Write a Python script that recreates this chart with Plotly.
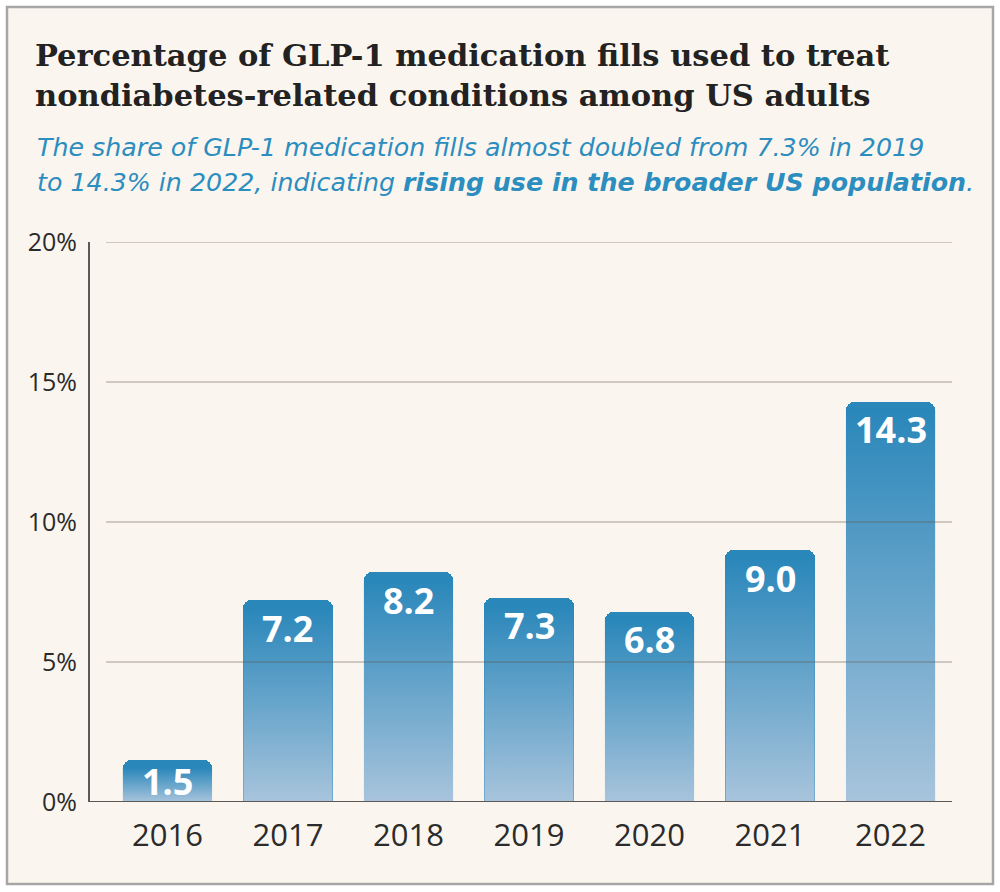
import plotly.graph_objects as go

# ---------------- data ----------------
years = ["2016", "2017", "2018", "2019", "2020", "2021", "2022"]
shares = [1.5, 7.2, 8.2, 7.3, 6.8, 9.0, 14.3]
value_labels = ["1.5", "7.2", "8.2", "7.3", "6.8", "9.0", "14.3"]
y_ticks = [0, 5, 10, 15, 20]
y_tick_labels = ["0%", "5%", "10%", "15%", "20%"]

title_lines = [
    "Percentage of GLP-1 medication fills used to treat",
    "nondiabetes-related conditions among US adults",
]
subtitle_lines = [
    "The share of GLP-1 medication fills almost doubled from 7.3% in 2019",
    "to 14.3% in 2022, indicating <b>rising use in the broader US population</b>.",
]

# ---------------- layout constants ----------------
W, H = 1000, 892
L, R, T, B = 106, 48, 242, 90
PW = W - L - R
PH = H - T - B
YMAX = 20
BAR_W = 0.74
CORNER = 8
X_RANGE = [-0.51, 6.51]
PX_PER_UNIT = PH / YMAX

TOP_COL = "#2A87BA"
BOT_COL = "#A8C4DC"
BG = "#FAF6EF"
TEXT = "#2B2B2B"
BLUE = "#2C8DBF"
AXIS = "#5E5955"


def px(x):
    return (x - L) / PW


def py(y):
    return (H - B - y) / PH


fig = go.Figure()

xs = list(range(len(years)))
fig.add_bar(
    x=xs, y=shares, width=BAR_W,
    marker=dict(color=TOP_COL, cornerradius=CORNER, line=dict(width=0)),
    hoverinfo="skip", showlegend=False,
)

r_units = CORNER / PX_PER_UNIT
for i, v in zip(xs, shares):
    x0, x1 = i - BAR_W / 2, i + BAR_W / 2
    ytop = v - r_units
    fig.add_scatter(
        x=[x0, x1, x1, x0, x0], y=[0, 0, ytop, ytop, 0],
        mode="lines", fill="toself", line=dict(width=0, color=TOP_COL),
        fillgradient=dict(type="vertical", colorscale=[[0, BOT_COL], [1, TOP_COL]]),
        hoverinfo="skip", showlegend=False,
    )

# value labels
for i, v, lab in zip(xs, shares, value_labels):
    shift = min(28, v * PX_PER_UNIT / 2)
    fig.add_annotation(
        x=i, y=v, xref="x", yref="y", text=f"<b>{lab}</b>", showarrow=False,
        yanchor="middle", xanchor="center", yshift=-shift,
        font=dict(family="Open Sans", size=36, color="white"),
    )

shapes = []
# background panel with border
shapes.append(dict(
    type="rect", xref="paper", yref="paper",
    x0=px(7), x1=px(993), y0=py(884), y1=py(7),
    line=dict(color="#A6A6A6", width=2.5), fillcolor=BG, layer="below",
))
# gridlines above bars
for t in y_ticks[1:]:
    shapes.append(dict(
        type="line", xref="paper", yref="y", x0=0, x1=1, y0=t, y1=t,
        line=dict(color="rgba(95,85,75,0.38)", width=1.5), layer="above",
    ))
# baseline and y axis line
shapes.append(dict(type="line", xref="paper", yref="y", x0=px(89), x1=1, y0=0, y1=0,
                   line=dict(color=AXIS, width=2), layer="above"))
shapes.append(dict(type="line", xref="paper", yref="y", x0=px(89), x1=px(89), y0=0, y1=YMAX,
                   line=dict(color=AXIS, width=2), layer="above"))

# title and subtitle
title_centers = [55, 95]
for line, yc in zip(title_lines, title_centers):
    fig.add_annotation(
        x=px(33), y=py(yc), xref="paper", yref="paper", text=line, showarrow=False,
        xanchor="left", yanchor="middle",
        font=dict(family="DejaVu Serif", size=30.5, color="#222222", weight="bold"),
    )
sub_centers = [147.5, 182.5]
for line, yc in zip(subtitle_lines, sub_centers):
    fig.add_annotation(
        x=px(35), y=py(yc), xref="paper", yref="paper", text=line, showarrow=False,
        xanchor="left", yanchor="middle",
        font=dict(family="DejaVu Sans", size=25.3, color=BLUE, style="italic"),
    )

fig.update_layout(
    width=W, height=H,
    margin=dict(l=L, r=R, t=T, b=B, pad=0),
    paper_bgcolor="white", plot_bgcolor="rgba(0,0,0,0)",
    shapes=shapes, bargap=0, showlegend=False,
    xaxis=dict(
        range=X_RANGE, tickvals=xs, ticktext=years, showgrid=False, zeroline=False,
        showline=False, ticks="", ticklabelstandoff=12,
        tickfont=dict(family="Open Sans", size=31, color=TEXT), fixedrange=True,
    ),
    yaxis=dict(
        range=[0, YMAX], tickvals=y_ticks, ticktext=y_tick_labels, showgrid=False,
        zeroline=False, showline=False, ticks="", ticklabelstandoff=28,
        tickfont=dict(family="Open Sans", size=25, color=TEXT), fixedrange=True,
    ),
)

fig.write_html("out.html")
